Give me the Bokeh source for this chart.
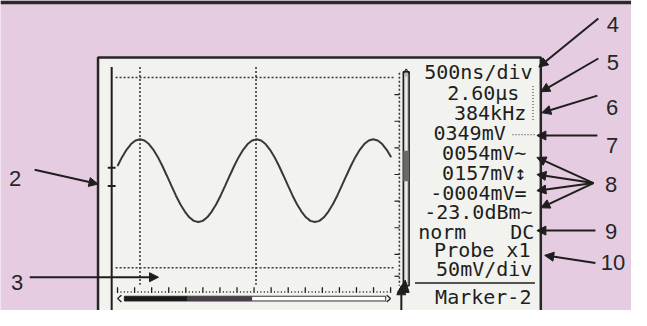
from bokeh.plotting import figure
from bokeh.models import Range1d, Arrow, NormalHead, ColumnDataSource
from bokeh.core.properties import value
from bokeh.embed import file_html
from bokeh.resources import INLINE
import numpy as np

# ---------------- data ----------------
# trace samples: time in microseconds, level in millivolts
time_us = [0.0, 0.1, 0.2, 0.3, 0.4, 0.5, 0.6, 0.7, 0.8, 0.9,
           1.0, 1.1, 1.2, 1.3, 1.4, 1.5, 1.6, 1.7, 1.8, 1.9,
           2.0, 2.1, 2.2, 2.3, 2.4, 2.5, 2.6, 2.7, 2.8, 2.9,
           3.0, 3.1, 3.2, 3.3, 3.4, 3.5, 3.6, 3.7, 3.8, 3.9,
           4.0, 4.1, 4.2, 4.3, 4.4, 4.5, 4.6, 4.7, 4.8, 4.9,
           5.0, 5.1, 5.2, 5.3, 5.4, 5.5, 5.6, 5.7, 5.8, 5.9,
           6.0, 6.1]
volt_mv = [62, 99, 130, 154, 169, 174, 169, 154, 130, 99,
           62, 21, -21, -62, -99, -130, -154, -169, -174, -169,
           -154, -130, -99, -62, -21, 21, 62, 99, 130, 154,
           169, 174, 169, 154, 130, 99, 62, 21, -21, -62,
           -99, -130, -154, -169, -174, -169, -154, -130, -99, -62,
           -21, 21, 62, 99, 130, 154, 169, 174, 169, 154,
           130, 99]

readout_text = ["500ns/div", "2.60\u03bcs", "384kHz", "0349mV", "0054mV~",
                "0157mV\u2195", "-0004mV=", "-23.0dBm~", "norm", "DC",
                "Probe x1", "50mV/div", "Marker-2"]
callout_text = ["2", "3", "4", "5", "6", "7", "8", "9", "10"]

# ---------------- layout (reference-image pixel coordinates) ----------------
W, H = 631, 310                    # figure size on the page
IMG_W, IMG_H = 647, 326            # coordinate space of the drawing
T0_PX, PX_PER_US = 120.0, 46.0     # trace time origin / scale
V0_PX, PX_PER_MV = 189.5, 0.25     # trace level origin / scale

INK = "#1e1e1e"
PINK = "#e6cce0"
SCREEN = "#f2f3ee"

p = figure(width=W, height=H, x_range=Range1d(0, IMG_W), y_range=Range1d(IMG_H, 0),
           x_axis_type=None, y_axis_type=None, toolbar_location=None,
           output_backend="svg", min_border=0, background_fill_color=PINK,
           border_fill_color=PINK)
p.outline_line_color = None
p.extra_x_ranges = {"t": Range1d((0 - T0_PX) / PX_PER_US, (IMG_W - T0_PX) / PX_PER_US)}
p.extra_y_ranges = {"v": Range1d((V0_PX - IMG_H) / PX_PER_MV, (V0_PX - 0) / PX_PER_MV)}

# dark strip along the top edge of the photo
p.quad(left=[0], right=[IMG_W], top=[0], bottom=[4], fill_color="#2a2a2a", line_color=None)

# screen
p.quad(left=[100], right=[554], top=[60], bottom=[340], fill_color=SCREEN,
       line_color="#262626", line_width=2.5)

# left level line with trigger marker
p.segment(x0=[114], y0=[70], x1=[114], y1=[340], line_color=INK, line_width=2)
p.segment(x0=[110, 110], y0=[176, 195], x1=[118, 118], y1=[176, 195], line_color=INK, line_width=2)

# dotted graticule / cursors
dot = dict(line_color="#3a3a3a", line_width=1.6, line_dash="2 2")
p.segment(x0=[118, 118], y0=[81, 281], x1=[403, 403], y1=[81, 281], **dot)
p.segment(x0=[143, 262], y0=[70, 70], x1=[143, 262], y1=[299, 299], **dot)
p.segment(x0=[409], y0=[76], x1=[409], y1=[300], **dot)
rt = np.array([99, 127, 155, 183, 211, 239, 267, 290])
p.segment(x0=np.full(8, 404), y0=rt, x1=np.full(8, 409), y1=rt, line_color=INK, line_width=1.2)

# right scroll bar
p.quad(left=[413], right=[419], top=[75], bottom=[300], fill_color="#b9b9b5",
       line_color=INK, line_width=1.5)
p.quad(left=[415], right=[417], top=[80], bottom=[296], fill_color="#eeeeea", line_color=None)
p.quad(left=[413], right=[419], top=[158], bottom=[190], fill_color="#6a6a68", line_color=None)
p.segment(x0=[413, 416], y0=[77, 72], x1=[416, 419], y1=[72, 77], line_color=INK, line_width=1.2)
p.patch(x=[407, 415, 419], y=[307, 294, 307], fill_color=INK, line_color=INK)

# trace
p.line(x=time_us, y=volt_mv, x_range_name="t", y_range_name="v",
       line_color="#383838", line_width=2)

# time ruler and scroll bar
major = 120 + 17.5 * np.arange(17)
p.segment(x0=major, y0=np.full(17, 301.5), x1=major, y1=np.full(17, 307.5),
          line_color=INK, line_width=1.3)
minor = (120 + 3.5 * np.arange(81))
minor = minor[np.arange(81) % 5 != 0]
p.segment(x0=minor, y0=np.full(len(minor), 305.5), x1=minor, y1=np.full(len(minor), 307.5),
          line_color="#444", line_width=1)
p.segment(x0=[124, 120, 396, 400], y0=[310, 313.5, 310, 313.5],
          x1=[120, 124, 400, 396], y1=[313.5, 317, 313.5, 317], line_color=INK, line_width=1.3)
p.quad(left=[127], right=[395], top=[311], bottom=[316], fill_color="white",
       line_color="#333", line_width=1)
p.quad(left=[127, 192], right=[192, 258], top=[311, 311], bottom=[316, 316],
       fill_color=["#1a1a1a", "#4a3f48"], line_color=None)

# readout panel
mono = value("DejaVu Sans Mono")
rx = [490, 495, 502, 481, 496, 496, 490, 490, 453, 535, 494, 496, 495]
ry = [75, 97, 118, 139, 160, 181, 202, 222, 243, 243, 262, 282, 312]
p.text(x=rx, y=ry, text=readout_text, text_font=mono, text_font_size="20px",
       text_align="center", text_baseline="middle", text_color=INK)
p.segment(x0=[425], y0=[297], x1=[548], y1=[297], line_color=INK, line_width=1.5)
p.segment(x0=[546, 525], y0=[90, 141], x1=[546, 549], y1=[126, 141],
          line_color="#555", line_width=1.3, line_dash="1 2")

# callout numbers
cx = [15, 17, 628, 628, 627, 627, 626, 626, 628]
cy = [187, 297, 25, 65, 113, 152, 193, 243, 276]
p.text(x=cx, y=cy, text=callout_text, text_font=value("Liberation Sans"),
       text_font_size="22px", text_align="center", text_baseline="middle",
       text_color="#262626")

# callout arrows
arr = ColumnDataSource(dict(
    xs=[35, 30, 613, 613, 612, 612, 608, 608, 608, 608, 610, 610, 411],
    ys=[178, 291, 19, 61, 100, 142, 192, 192, 192, 192, 242, 276, 340],
    xe=[100, 162, 552, 554, 555, 550, 550, 550, 550, 554, 550, 558, 411],
    ye=[193, 291, 70, 96, 118, 142, 165, 183, 200, 218, 242, 268, 300]))
p.add_layout(Arrow(end=NormalHead(size=9, fill_color=INK, line_color=INK, line_width=1),
                   x_start="xs", y_start="ys", x_end="xe", y_end="ye", source=arr,
                   line_color=INK, line_width=2))

open("out.html", "w").write(file_html(p, INLINE))
